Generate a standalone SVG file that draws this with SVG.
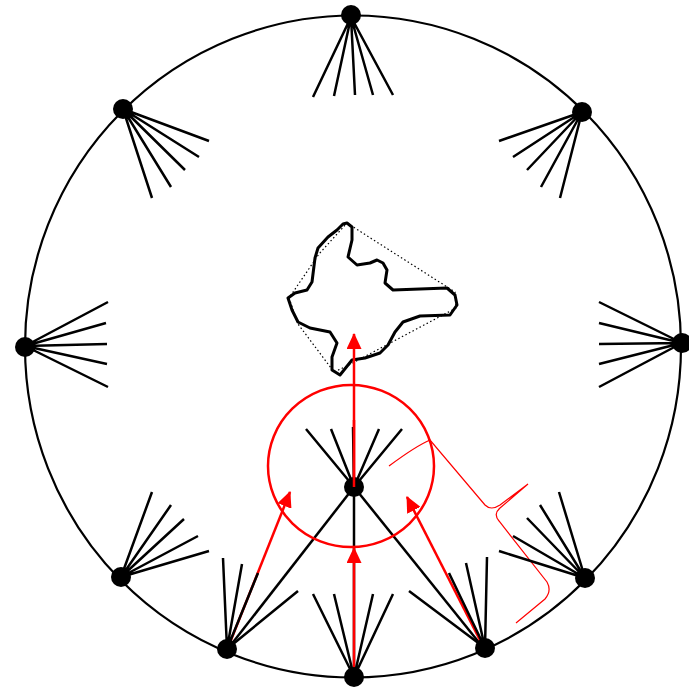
<svg xmlns="http://www.w3.org/2000/svg" width="689" height="688" viewBox="0 0 689 688">
<defs>
<marker id="ah" markerUnits="userSpaceOnUse" markerWidth="16" markerHeight="15" viewBox="0 0 16 15" refX="15" refY="7.5" orient="auto">
<path d="M0,0 L16,7.5 L0,15 Z" fill="#ff0000"/>
</marker>
<style>
.ring{fill:none;stroke:#000;stroke-width:2.2}
.fan{stroke:#000;stroke-width:2.5;fill:none}
.dot{fill:#000}
.red{stroke:#ff0000;stroke-width:2.5;fill:none}
.redthin{stroke:#ff0000;stroke-width:1.2;fill:none}
.blob{fill:none;stroke:#000;stroke-width:3;stroke-linejoin:round}
.hull{fill:none;stroke:#000;stroke-width:1.2;stroke-dasharray:1.5,2.5}
</style>
</defs>
<rect width="689" height="688" fill="#fff"/>
<ellipse class="ring" cx="353" cy="346.5" rx="328" ry="331"/>

<g id="blob">
<path class="hull" d="M347,223 L455,292 L456,308 L347,366 L334,372 L298,324 L289,298 L319,254 Z"/>
<path class="blob" d="M347,223 L352,227 L352,240 L348,257 L357,265 L370,263 L377,260 L383,263 L387,270 L385,283 L393,290 L420,289 L447,288 L455,295 L457,305 L450,315 L420,316 L403,322 L395,332 L388,345 L380,353 L365,358 L352,360 L340,375 L332,370 L332,357 L337,343 L330,332 L310,328 L298,322 L292,310 L288,298 L295,293 L307,290 L312,282 L315,258 L318,248 L328,237 L337,230 L343,224 Z"/>
</g>

<g id="connectors">
<line class="fan" x1="354" y1="487" x2="227" y2="650"/>
<line class="fan" x1="354" y1="487" x2="485" y2="650"/>
<line class="fan" x1="354" y1="487" x2="354" y2="678"/>
<ellipse class="red" cx="351" cy="466" rx="83" ry="81" stroke-width="2.2"/>
<line class="red" x1="354" y1="487" x2="354" y2="334" marker-end="url(#ah)"/>
<line class="red" x1="354" y1="678" x2="354" y2="548" marker-end="url(#ah)"/>
<line class="red" x1="227" y1="650" x2="290" y2="492" marker-end="url(#ah)"/>
<line class="red" x1="485" y1="650" x2="407" y2="497" marker-end="url(#ah)"/>
<path class="redthin" d="M389,466 Q416,446 430,440 L485,505 Q491,511 500,505 L528,484 L500,508 Q493,514 499,521 L547,582 Q552,591 545,599 L516,623"/>
</g>

<g id="n-top">
<circle class="dot" cx="351" cy="15" r="10"/>
<path class="fan" d="M351,17 L313,97 M351,17 L334,96 M351,17 L355,95 M351,17 L373,95 M351,17 L393,95"/>
</g>
<g id="n-upper-left">
<circle class="dot" cx="123" cy="109" r="10"/>
<path class="fan" d="M123,109 L209,141 M123,109 L199,157 M123,109 L185,170 M123,109 L171,187 M123,109 L152,198"/>
</g>
<g id="n-upper-right">
<circle class="dot" cx="582" cy="112" r="10"/>
<path class="fan" d="M582,112 L499,141 M582,112 L513,157 M582,112 L527,170 M582,112 L541,187 M582,112 L560,198"/>
</g>
<g id="n-left">
<circle class="dot" cx="25" cy="347" r="10"/>
<path class="fan" d="M25,346 L108,302 M25,346 L106,323 M25,346 L107,344 M25,346 L107,364 M25,346 L108,387"/>
</g>
<g id="n-right">
<circle class="dot" cx="682" cy="343" r="10"/>
<path class="fan" d="M682,343 L599,302 M682,343 L599,323 M682,343 L599,344 M682,343 L599,364 M682,343 L599,387"/>
</g>
<g id="n-lower-left">
<circle class="dot" cx="121" cy="577" r="10"/>
<path class="fan" d="M121,577 L152,492 M121,577 L171,505 M121,577 L184,519 M121,577 L198,536 M121,577 L209,551"/>
</g>
<g id="n-lower-right">
<circle class="dot" cx="585" cy="578" r="10"/>
<path class="fan" d="M585,578 L559,492 M585,578 L540,505 M585,578 L527,518 M585,578 L513,536 M585,578 L499,551"/>
</g>
<g id="n-bottom-left">
<circle class="dot" cx="227" cy="649" r="10"/>
<path class="fan" d="M227,649 L223,558 M227,649 L242,564 M227,649 L258,573 M227,649 L298,591"/>
</g>
<g id="n-bottom">
<circle class="dot" cx="354" cy="677" r="10"/>
<path class="fan" d="M354,677 L313,594 M354,677 L334,594 M354,677 L373,594 M354,677 L393,594"/>
</g>
<g id="n-bottom-right">
<circle class="dot" cx="485" cy="648" r="10"/>
<path class="fan" d="M485,648 L487,557 M485,648 L466,563 M485,648 L449,573 M485,648 L409,591"/>
</g>
<g id="n-center">
<circle class="dot" cx="354" cy="487" r="10"/>
<path class="fan" d="M354,487 L306,429 M354,487 L331,429 M354,487 L353,427 M354,487 L379,429 M354,487 L402,429"/>
</g>
<line class="red" x1="354" y1="487" x2="354" y2="420"/>
</svg>
